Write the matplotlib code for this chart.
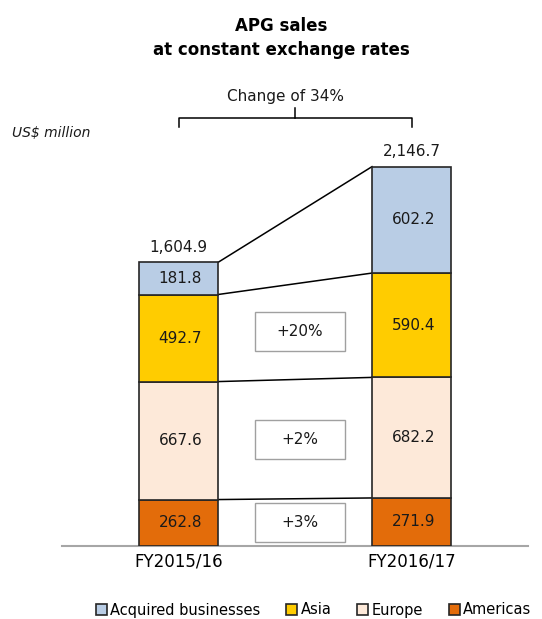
import matplotlib.pyplot as plt
from matplotlib.patches import Rectangle, Patch

years = ["FY2015/16", "FY2016/17"]
segments = ["Americas", "Europe", "Asia", "Acquired businesses"]
americas = [262.8, 271.9]
europe = [667.6, 682.2]
asia = [492.7, 590.4]
acquired = [181.8, 602.2]
change_labels = ["+3%", "+2%", "+20%"]
total_change = "Change of 34%"

colors = {
    "Americas": "#E36C0A",
    "Europe": "#FDE9D9",
    "Asia": "#FFCC00",
    "Acquired businesses": "#B9CDE5",
}
edge = "#262626"
plt.rcParams["font.family"] = ["DejaVu Sans"]

fig = plt.figure(figsize=(5.42, 6.19), dpi=100)
ax = fig.add_axes([62 / 542, (619 - 546) / 619, 466 / 542, 466 / 619])
ax.set_xlim(-0.5, 1.5)
ax.set_ylim(0, 2637)

width = 0.339
x = [0, 1]
series = [americas, europe, asia, acquired]
bottoms = [0.0, 0.0]
tops_per_seg = []
for name, vals in zip(segments, series):
    ax.bar(x, vals, width, bottom=bottoms, color=colors[name], edgecolor=edge,
           linewidth=1.2, zorder=3)
    for i in range(2):
        ax.text(x[i] + 0.008, bottoms[i] + vals[i] / 2, f"{vals[i]:,.1f}", ha="center",
                va="center", fontsize=11, color="#1a1a1a", zorder=4)
    mids = [bottoms[i] + vals[i] / 2 for i in range(2)]
    bottoms = [bottoms[i] + vals[i] for i in range(2)]
    tops_per_seg.append((list(bottoms), mids))

# connector lines between bars
for tops, _ in tops_per_seg:
    ax.plot([width / 2, 1 - width / 2], tops, color="black", lw=1.1, zorder=2)

# totals
for i in range(2):
    ax.annotate(f"{bottoms[i]:,.1f}", (x[i], bottoms[i]), xytext=(0, 11),
                textcoords="offset points", ha="center", va="center", fontsize=11,
                color="#1a1a1a", annotation_clip=False)

# change boxes
box_w, box_h = 0.386, 221
for (_, mids), lab in zip(tops_per_seg[:3], change_labels):
    cy = sum(mids) / 2
    ax.add_patch(Rectangle((0.52 - box_w / 2, cy - box_h / 2), box_w, box_h,
                           facecolor="white", edgecolor="#A0A0A0", lw=1, zorder=3))
    ax.text(0.52, cy, lab, ha="center", va="center", fontsize=11, color="#1a1a1a", zorder=4)

# bracket
yb = 2422
ax.plot([0, 0, 1, 1], [2371, yb, yb, 2371], color="black", lw=1.1, clip_on=False)
ax.plot([0.5, 0.5], [yb, 2479], color="black", lw=1.1, clip_on=False)
ax.text(0.46, 2541, total_change, ha="center", va="center", fontsize=11, color="#1a1a1a")

ax.set_xticks(x, years, fontsize=12)
ax.tick_params(axis="x", length=0, pad=5)
ax.set_yticks([])
for s in ["top", "left", "right"]:
    ax.spines[s].set_visible(False)
ax.spines["bottom"].set_color("#A6A6A6")
ax.spines["bottom"].set_linewidth(1.5)

fig.text(281 / 542, 1 - 38 / 619, "APG sales\nat constant exchange rates", ha="center",
         va="center", fontsize=12, fontweight="bold", linespacing=1.45)
fig.text(12 / 542, 1 - 133 / 619, "US$ million", ha="left", va="center", fontsize=10,
         style="italic", color="#1a1a1a")

handles = [Patch(facecolor=colors[n], edgecolor=edge, lw=1.2) for n in segments[::-1]]
fig.legend(handles, segments[::-1], loc="center left", bbox_to_anchor=(90 / 542, 1 - 610 / 619),
           ncol=4, frameon=False, fontsize=10.5, handlelength=0.75, handleheight=0.75,
           handletextpad=0.25, columnspacing=1.75, borderaxespad=0)

fig.savefig("out.png", dpi=100)
